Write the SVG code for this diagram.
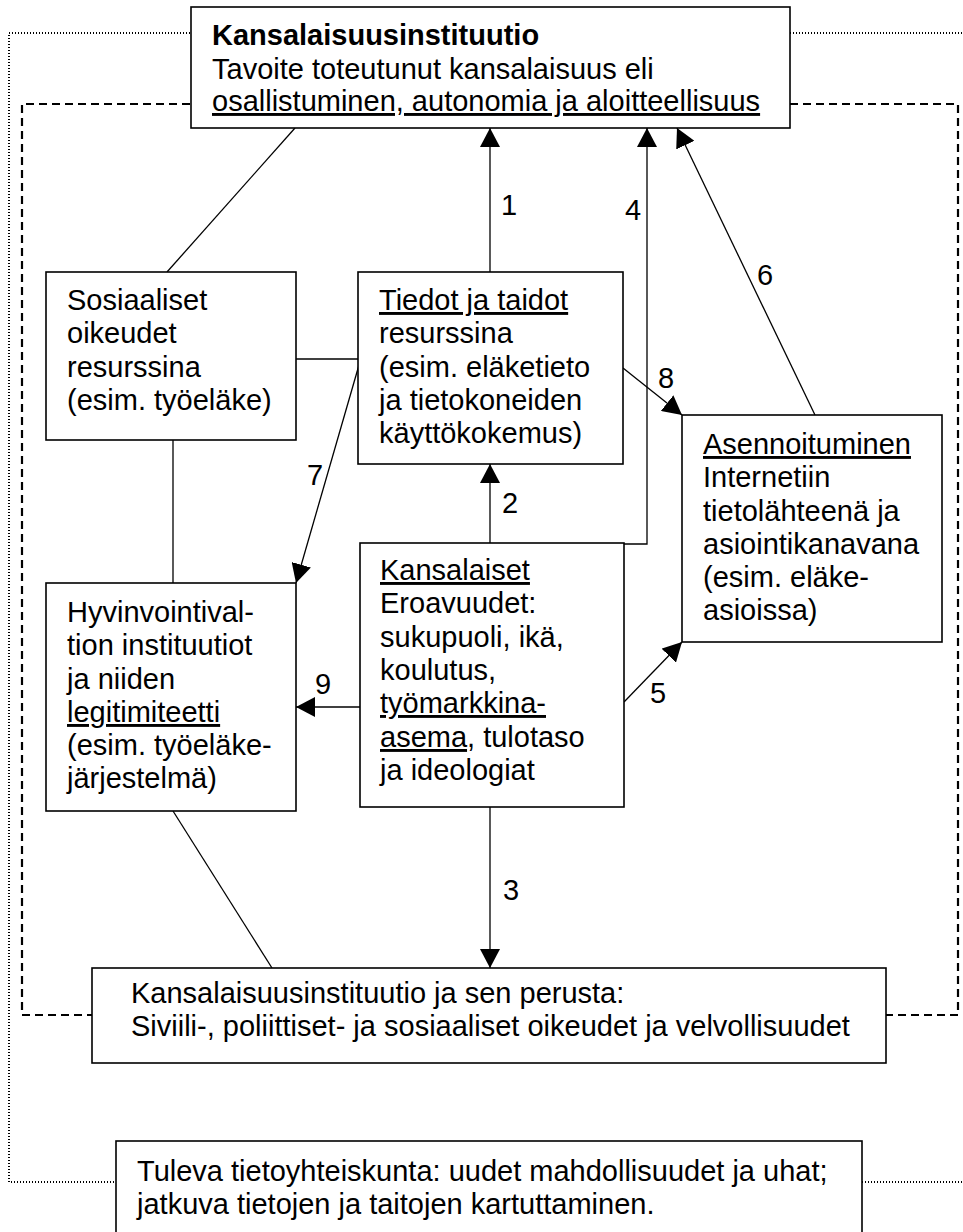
<svg xmlns="http://www.w3.org/2000/svg" width="963" height="1232" viewBox="0 0 963 1232">
<style>
  text { font-family: "Liberation Sans", Arial, sans-serif; font-size: 29px; fill: #000; }
  .box { fill: #fff; stroke: #000; stroke-width: 1.6; }
  .ln { fill: none; stroke: #000; stroke-width: 1.3; }
  .arr { fill: none; stroke: #000; stroke-width: 1.3; marker-end: url(#ah); }
  .dot { fill: none; stroke: #000; stroke-width: 2; stroke-dasharray: 1 2; }
  .dash { fill: none; stroke: #000; stroke-width: 2.2; stroke-dasharray: 8 5; }
  .u { text-decoration: underline; text-decoration-skip-ink: none; }
  .b { font-weight: bold; }
</style>
<defs>
  <marker id="ah" markerUnits="userSpaceOnUse" markerWidth="19" markerHeight="20" refX="19" refY="10" orient="auto">
    <path d="M0,0 L19,10 L0,20 Z" fill="#000"/>
  </marker>
</defs>
<rect width="963" height="1232" fill="#fff"/>

<g id="frames">
  <path class="dot" d="M190,33 H9 V1182 H116"/>
  <path class="dot" d="M790,33 H963"/>
  <path class="dot" d="M862,1182 H963"/>
  <path class="dash" d="M190,104 H22 V1015 H92"/>
  <path class="dash" d="M790,104 H958 V1015 H886"/>
</g>

<g id="connectors">
  <path class="ln" d="M295,128 L167,272"/>
  <path class="ln" d="M296,359 H358"/>
  <path class="ln" d="M173,440 V583"/>
  <path class="ln" d="M173,811 L272,968"/>
  <path class="arr" d="M490,272 V128"/>
  <path class="arr" d="M624,544 H647 V128"/>
  <path class="arr" d="M815,415 L677,128"/>
  <path class="arr" d="M623,368 L682,415"/>
  <path class="arr" d="M359,365 L296,583"/>
  <path class="arr" d="M490,543 V464"/>
  <path class="arr" d="M360,707 H296"/>
  <path class="arr" d="M624,702 L682,642"/>
  <path class="arr" d="M490,807 V968"/>
  <text x="501" y="215">1</text>
  <text x="502" y="513">2</text>
  <text x="503" y="900">3</text>
  <text x="625" y="220">4</text>
  <text x="650" y="703">5</text>
  <text x="757" y="285">6</text>
  <text x="307" y="485">7</text>
  <text x="658" y="388">8</text>
  <text x="315" y="694">9</text>
</g>

<g id="top">
  <rect class="box" x="191" y="7" width="599" height="121"/>
  <text x="212" y="45" class="b">Kansalaisuusinstituutio</text>
  <text x="212" y="79">Tavoite toteutunut kansalaisuus eli</text>
  <text x="212" y="111" class="u">osallistuminen, autonomia ja aloitteellisuus</text>
</g>

<g id="sosiaaliset">
  <rect class="box" x="46" y="272" width="250" height="168"/>
  <text x="67" y="310">Sosiaaliset</text>
  <text x="67" y="343">oikeudet</text>
  <text x="67" y="377">resurssina</text>
  <text x="67" y="410">(esim. työeläke)</text>
</g>

<g id="tiedot">
  <rect class="box" x="358" y="272" width="265" height="192"/>
  <text x="379" y="310" class="u">Tiedot ja taidot</text>
  <text x="379" y="343">resurssina</text>
  <text x="379" y="377">(esim. eläketieto</text>
  <text x="379" y="410">ja tietokoneiden</text>
  <text x="379" y="443">käyttökokemus)</text>
</g>

<g id="asennoituminen">
  <rect class="box" x="682" y="415" width="260" height="227"/>
  <text x="703" y="454" class="u">Asennoituminen</text>
  <text x="703" y="487">Internetiin</text>
  <text x="703" y="521">tietolähteenä ja</text>
  <text x="703" y="554">asiointikanavana</text>
  <text x="703" y="587">(esim. eläke-</text>
  <text x="703" y="620">asioissa)</text>
</g>

<g id="kansalaiset">
  <rect class="box" x="360" y="543" width="264" height="264"/>
  <text x="380" y="580" class="u">Kansalaiset</text>
  <text x="380" y="613">Eroavuudet:</text>
  <text x="380" y="647">sukupuoli, ikä,</text>
  <text x="380" y="680">koulutus,</text>
  <text x="380" y="713" class="u">työmarkkina-</text>
  <text x="380" y="747"><tspan class="u">asema</tspan>, tulotaso</text>
  <text x="380" y="780">ja ideologiat</text>
</g>

<g id="hyvinvointi">
  <rect class="box" x="46" y="583" width="250" height="228"/>
  <text x="67" y="622">Hyvinvointival-</text>
  <text x="67" y="655">tion instituutiot</text>
  <text x="67" y="689">ja niiden</text>
  <text x="67" y="722" class="u">legitimiteetti</text>
  <text x="67" y="755">(esim. työeläke-</text>
  <text x="67" y="788">järjestelmä)</text>
</g>

<g id="perusta">
  <rect class="box" x="92" y="968" width="794" height="95"/>
  <text x="131" y="1003">Kansalaisuusinstituutio ja sen perusta:</text>
  <text x="131" y="1036">Siviili-, poliittiset- ja sosiaaliset oikeudet ja velvollisuudet</text>
</g>

<g id="tuleva">
  <rect class="box" x="116" y="1141" width="746" height="120"/>
  <text x="137" y="1181">Tuleva tietoyhteiskunta: uudet mahdollisuudet ja uhat;</text>
  <text x="137" y="1214">jatkuva tietojen ja taitojen kartuttaminen.</text>
</g>
</svg>
